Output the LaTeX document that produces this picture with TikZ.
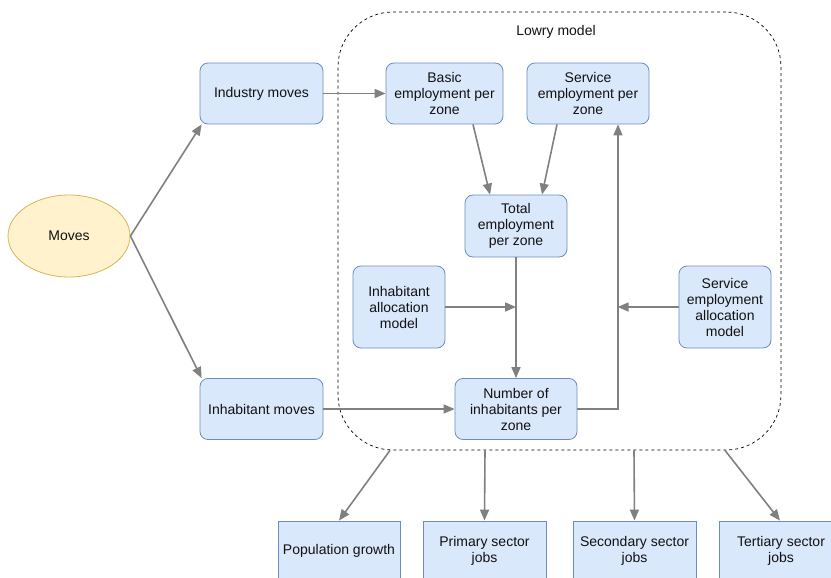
\documentclass[tikz,border=0pt]{standalone}
\usepackage{fontspec}
\setmainfont{Liberation Sans}
\usetikzlibrary{arrows.meta}
\usetikzlibrary{shapes.geometric}
\definecolor{boxfill}{HTML}{DAE8FC}
\definecolor{boxline}{HTML}{6C8EBF}
\definecolor{ellfill}{HTML}{FFF2CC}
\definecolor{ellline}{HTML}{D6B656}
\definecolor{flowgray}{HTML}{808080}
\definecolor{txt}{HTML}{111111}

\begin{document}
\begin{tikzpicture}[x=1pt, y=-1pt,
    font=\fontsize{14}{16}\selectfont, text=txt,
    box/.style={draw=boxline, fill=boxfill, line width=0.8pt, rounded corners=8pt,
        align=center, inner sep=2pt, minimum width=122pt, minimum height=61pt},
    outbox/.style={draw=boxline, fill=boxfill, line width=0.8pt, align=center,
        inner sep=2pt, minimum width=123pt, minimum height=60pt},
    flow/.style={draw=flowgray, line width=1.6pt, -{Triangle[length=11pt,width=9pt]}}]

    % page frame
    \useasboundingbox (0,0) rectangle (831,578);

    % Lowry model container
    \node[draw, dashed, line width=0.7pt, rounded corners=55pt,
          minimum width=443pt, minimum height=438pt] (lowry) at (559.5,231) {};
    \node (lowrylabel) at (556,32) {Lowry model};

    % Moves and the two move types
    \node[ellipse, draw=ellline, fill=ellfill, line width=0.8pt,
          minimum width=122pt, minimum height=82pt] (moves) at (69,236) {Moves};
    \node[box, minimum width=123pt] (indmoves) at (261.5,93.5) {Industry moves};
    \node[box, minimum width=123pt] (inhmoves) at (261.5,409) {Inhabitant moves};

    % Inside the Lowry model
    \node[box, minimum width=117pt] (basic) at (444.5,93.5) {Basic\\employment per\\zone};
    \node[box] (service) at (588,93.5) {Service\\employment per\\zone};
    \node[box, minimum width=102pt, minimum height=62pt] (total) at (516,226) {Total\\employment\\per zone};
    \node[box, minimum width=92pt, minimum height=82pt] (inhalloc) at (399,307) {Inhabitant\\allocation\\model};
    \node[box, minimum width=92pt, minimum height=82pt] (servalloc) at (725,307) {Service\\employment\\allocation\\model};
    \node[box] (number) at (516,409) {Number of\\inhabitants per\\zone};

    % Outputs
    \node[outbox, minimum width=122pt] (popgrowth) at (339,551) {Population growth};
    \node[outbox] (primary) at (484.5,551) {Primary sector\\jobs};
    \node[outbox] (secondary) at (634.5,551) {Secondary sector\\jobs};
    \node[outbox] (tertiary) at (781,551) {Tertiary sector\\jobs};

    % Connectors
    \draw[flow] (moves.east) -- ([xshift=2pt]indmoves.south west);
    \draw[flow] (moves.east) -- ([xshift=2pt]inhmoves.north west);
    \draw[flow] (indmoves.east) -- (basic.west);
    \draw[flow] (inhmoves.east) -- (number.west);
    \draw[flow] ([xshift=28.5pt]basic.south) -- ([xshift=-26pt]total.north);
    \draw[flow] ([xshift=-31pt]service.south) -- ([xshift=26pt]total.north);
    \draw[flow] (total.south) -- (number.north);
    \draw[flow] (inhalloc.east) -- (inhalloc.east -| total.south);
    \draw[flow] (number.east) -| ([xshift=30pt]service.south);
    \draw[flow] (servalloc.west) -- ++(-61,0);

    % From the model to the outputs
    \draw[flow] ([xshift=-169.5pt]lowry.south) -- (popgrowth.north);
    \draw[flow] ([xshift=-74.5pt]lowry.south) -- (primary.north);
    \draw[flow] ([xshift=74.5pt]lowry.south) -- (secondary.north);
    \draw[flow] ([xshift=165.5pt]lowry.south) -- ([xshift=-1pt]tertiary.north);
\end{tikzpicture}
\end{document}
